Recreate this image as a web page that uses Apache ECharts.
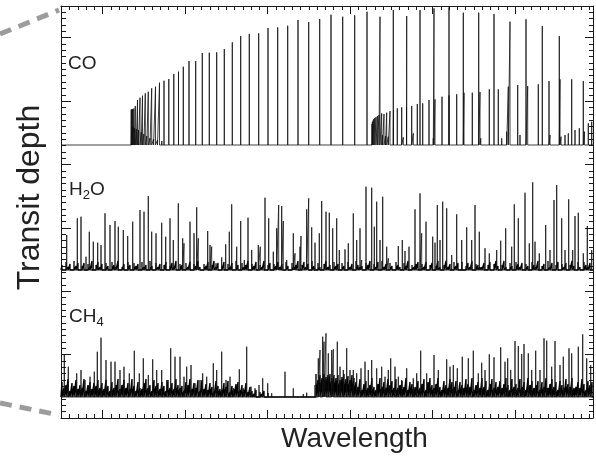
<!DOCTYPE html>
<html><head><meta charset="utf-8">
<script src="https://cdn.jsdelivr.net/npm/echarts@6/dist/echarts.min.js"></script>
<style>html,body{margin:0;padding:0;background:#fff}#c{width:596px;height:460px}</style>
</head><body><div id="c"></div>
<script>
// ---- axis ranges and ticks (arbitrary wavelength units; no tick labels in the original) ----
const xRange = [61, 593];
const yRange = [0, 412];
const xMajorTicks = [102.7, 185.2, 267.7, 350.2, 432.7, 515.2];
const xMinorTicks = [69.7, 77.95, 86.2, 94.45, 110.95, 119.2, 127.45, 135.7, 143.95, 152.2, 160.45, 168.7, 176.95,
  193.45, 201.7, 209.95, 218.2, 226.45, 234.7, 242.95, 251.2, 259.45, 275.95, 284.2, 292.45, 300.7, 308.95, 317.2,
  325.45, 333.7, 341.95, 358.45, 366.7, 374.95, 383.2, 391.45, 399.7, 407.95, 416.2, 424.45, 440.95, 449.2, 457.45,
  465.7, 473.95, 482.2, 490.45, 498.7, 506.95, 523.45, 531.7, 539.95, 548.2, 556.45, 564.7, 572.95, 581.2, 589.45];
const yMajorInterval = 63.38;
const yMinorInterval = 6.338;

// ---- panel baselines (transit-depth offsets of the three stacked spectra) ----
const coBase = 273, h2oBase = 148, ch4Base = 21;

// ---- CO: [wavelength, depth] ----
const coBand1 = [[131.2,308.5],[131.7,308.5],[132.6,309],[133.8,309.5],[135.3,312],[137.5,318],[140,320.3],[142.5,322.3],
  [145.3,324.7],[148.3,326.3],[151.7,329.7],[155.5,331.3],[159.5,335.3],[164,337.3],[168.8,339],[173.8,344],[178.5,346.3],
  [183.3,351.3],[189,357],[195.7,357],[202.3,365],[209.3,365.3],[216.7,365.7],[224.3,369],[232.3,375.7],[240.7,382],
  [249.3,384],[258.7,384.7],[268,390],[277.7,390.7],[287.7,392.3],[298,398],[308.7,396],[319.7,399],[331,403.3],
  [342.7,401.3],[354.7,402.7],[367,406.3],[380,401.3],[393.3,408],[406.7,402],[420,408],[434,409.7],[449,410.7],
  [463.3,405.3],[478.7,405.3],[494,404],[510,396.3],[526,398.7],[542.3,392],[559.3,382]];
const coBand1Return = [[132.2,292],[133.2,291],[134.5,290],[136.3,289],[138.5,288],[141.2,286],[143.9,284],[146.8,282],
  [150,280],[153.6,279],[157.5,278],[161.8,277]];
const coBand2 = [[372,294],[372.4,296],[373,297.5],[373.8,299],[374.8,300],[376,301],[377.4,302],[379,303],[381.7,304.7],
  [384,304],[386.7,305.3],[390,307],[393.5,308],[397.3,309.7],[401.7,310.7],[406.5,311],[411.7,312],[417.3,314],
  [422.7,314.7],[429,318],[435,318.7],[442,321.3],[449,322.5],[456.7,323.7],[464,325.3],[472.3,325.3],[480,326],
  [489.3,328.7],[498.3,328.7],[508.3,331.3],[517.7,333],[527.7,332],[538.3,333.7],[549,337],[560,338.7],[571.7,338.7],[583.3,337]];
const coWeak = [[382.5,283],[385.5,282],[388.3,281.3],[403.3,280.7],[413.3,284.7],[433.3,279.7],[480.8,279.7],[501.7,279.7],
  [506.7,286.3],[520,283],[550,283],[561,281.3],[565,283],[568.3,284.7],[575,288],[579.3,289.7],[584.5,286.3],[588.3,294.7],[591.7,296.3]];

// ---- H2O ----
const h2oLines = [[66.7,183],[77.3,199.7],[81,201.3],[86,161.3],[89.3,186.3],[93.3,176.3],[97.7,175.3],[101,173],[105,204.7],
  [110,193],[115,197],[118.3,191.3],[123.3,188],[127.7,182],[132.7,196.3],[140,208],[144,206.3],[148.3,222],[151.7,186.3],
  [156,184.7],[161.7,195.3],[165.7,181.3],[170,199.7],[173.3,178],[178.3,214.7],[182.7,179.7],[184,174.7],[190,196.3],
  [194,184.7],[196.7,210.7],[198.3,179.7],[207.7,187],[210,173],[211.7,171.3],[216,154.7],[221.7,160.7],[225.7,173.7],
  [229.3,186.3],[231.7,213.7],[236.7,171.3],[240.7,197],[244.3,158],[248,200.3],[251.7,168],[258.3,173],[260.3,171.3],
  [265,220.3],[268.7,199.7],[273.3,166.3],[276.7,189.7],[278.7,213],[281.7,212],[283.3,197],[286.7,158],[293.3,184.7],
  [295,164.7],[300,171.3],[301,182],[306.7,208.7],[308.7,219.7],[311.7,190.7],[315,175.3],[319.3,184.7],[321.7,217],
  [326,206.3],[329.3,205.3],[332.7,189.7],[336.7,199.7],[339.3,168],[345,168.7],[348.3,174.7],[353.3,204.7],[356.7,178],
  [360,189.7],[361.7,158],[366,231.3],[371.7,230.3],[374.3,191.3],[376.7,216.3],[380,178],[382.7,221.3],[386.7,171.3],
  [388.3,159.7],[398.3,172],[402.3,178],[405,167],[409,171.3],[415,208.7],[420,224.7],[421.7,184.7],[426,196.3],
  [432.7,181.3],[435,175.3],[437.3,213],[440,178],[442.7,216.3],[446.7,209.7],[451.7,163],[456.7,203.7],[461.7,178],
  [466.7,190.7],[471.7,178],[475,213],[479.3,186.3],[485,169.7],[489.3,164.7],[496.7,168],[500.7,177.3],[505.7,189.7],
  [511.7,171.3],[514.3,213.7],[518.3,199.7],[525,225.3],[529.3,174.7],[532.7,235.7],[535,176.3],[539.3,164.7],
  [545.7,193],[550,168],[554,218],[556.7,233],[561.7,199.7],[565,168],[568.7,218.7],[572.7,168],[575,202],[578.3,205.3],
  [583.3,164.7],[587.3,192],[591.7,168]];
const h2oGrass = [[62,153],[64,150],[66,156],[68,151],[70,154],[72,149],[74,157],[76,152],[78,155],[80,150],
  [82,152],[84,155],[86,149],[88,154],[90,151],[92,157],[94,150],[96,153],[98,156],[100,151],
  [102,154],[104,149],[106,155],[108,152],[110,150],[112,156],[114,153],[116,151],[118,157],[120,150],
  [122,151],[124,154],[126,150],[128,156],[130,153],[132,149],[134,155],[136,152],[138,154],[140,150],
  [142,156],[144,151],[146,153],[148,149],[150,157],[152,152],[154,150],[156,155],[158,151],[160,154],
  [162,150],[164,153],[166,156],[168,149],[170,152],[172,155],[174,151],[176,157],[178,150],[180,154],
  [182,153],[184,150],[186,155],[188,151],[190,156],[192,149],[194,154],[196,152],[198,157],[200,151],
  [202,149],[204,154],[206,152],[208,156],[210,150],[212,153],[214,157],[216,151],[218,155],[220,149],
  [222,152],[224,156],[226,150],[228,154],[230,151],[232,155],[234,149],[236,157],[238,153],[240,150],
  [242,155],[244,151],[246,153],[248,157],[250,149],[252,154],[254,152],[256,156],[258,150],[260,153],
  [262,151],[264,157],[266,149],[268,153],[270,155],[272,150],[274,154],[276,152],[278,156],[280,151],
  [282,154],[284,150],[286,156],[288,152],[290,149],[292,155],[294,151],[296,153],[298,157],[300,150],
  [302,153],[304,156],[306,151],[308,154],[310,150],[312,157],[314,152],[316,149],[318,155],[320,151],
  [322,150],[324,154],[326,157],[328,151],[330,153],[332,149],[334,156],[336,152],[338,154],[340,150],
  [342,155],[344,152],[346,149],[348,156],[350,151],[352,154],[354,150],[356,157],[358,153],[360,151],
  [362,152],[364,149],[366,155],[368,153],[370,157],[372,150],[374,154],[376,151],[378,156],[380,149],
  [382,157],[384,151],[386,154],[388,150],[390,155],[392,152],[394,149],[396,156],[398,153],[400,151],
  [402,150],[404,155],[406,152],[408,157],[410,149],[412,153],[414,151],[416,154],[418,156],[420,150],
  [422,154],[424,151],[426,156],[428,149],[430,153],[432,155],[434,150],[436,152],[438,157],[440,151],
  [442,149],[444,153],[446,157],[448,151],[450,154],[452,150],[454,156],[456,152],[458,155],[460,150],
  [462,156],[464,150],[466,152],[468,155],[470,151],[472,157],[474,149],[476,154],[478,153],[480,151],
  [482,151],[484,155],[486,150],[488,153],[490,156],[492,149],[494,154],[496,157],[498,152],[500,150],
  [502,153],[504,157],[506,151],[508,149],[510,155],[512,152],[514,150],[516,156],[518,154],[520,151],
  [522,155],[524,149],[526,154],[528,152],[530,150],[532,156],[534,153],[536,151],[538,157],[540,149],
  [542,152],[544,154],[546,150],[548,157],[550,151],[552,155],[554,149],[556,153],[558,156],[560,150],
  [562,154],[564,151],[566,155],[568,150],[570,153],[572,157],[574,152],[576,149],[578,156],[580,151],
  [582,150],[584,156],[586,153],[588,151],[590,155],[592,149]];

// ---- CH4 ----
const ch4Lines = [[64.3,63.7],[68.3,51.3],[76.7,44.7],[81,48],[85,38],[90,41.3],[94.3,46.3],[97.3,66.3],[101,80.3],
  [106,58],[111,56.3],[115,56.3],[120,48],[124,51.3],[129.3,44.7],[134.3,67.3],[139.3,44.7],[143.3,59.7],[148.3,43],
  [152.7,58.7],[156.7,48],[161.7,48],[166.7,38],[170.7,69.7],[175,61.3],[180,61.3],[184,41.3],[186.7,51.3],[191,53],
  [195,34.7],[200,38],[202.7,44.7],[206.7,41.3],[213.3,54.7],[216.7,48],[221.7,66.3],[226,38],[230,41.3],[233.3,29.7],
  [239.3,48.7],[243.3,29.7],[246.7,71.3],[251,31.3],[255,29.7],[259,33],[262.7,39.7],[267.7,34.7],[271.7,24.7],
  [278.3,22],[285,46.3],[293.3,29.7],[303.3,24],[306.7,25.3],[315,33],[318.3,59.7],[320,68],[322.7,81.3],[324,76.3],
  [326,84.7],[328.3,64.7],[331.7,68],[333.3,68.7],[337.3,76.3],[340,51.3],[343.3,48],[346.7,69.7],[350,48],[353.3,48],
  [356.7,44.7],[361,49.7],[365,56.3],[368.3,48],[371.7,58],[376.7,49.7],[381.7,51.3],[385,41.3],[388.3,48],[390.7,59.7],
  [395,51.3],[398.3,41.3],[401.7,38],[406.7,49.7],[413.3,39.7],[416.7,44.7],[420.7,67.3],[426.7,44.7],[434,63],
  [438.3,48],[446.7,58.7],[450,51.3],[453.3,53],[457.3,49.7],[462.3,61.3],[468.3,59.7],[473.3,67.3],[478.3,44.7],
  [481.7,55.3],[485,48],[489.3,63.7],[494,60.7],[500.7,70.7],[505,56.3],[507.7,59.7],[510.7,48],[515,77],[518.3,72],
  [521.7,64],[524,74],[528.3,64.7],[531.7,48],[535.7,67.3],[540,48],[544,79.7],[546.7,77.3],[551.7,51.3],[555,77],
  [560,53],[563.3,61.3],[569,69.7],[571.7,64.7],[578.3,71.3],[582.7,83.7],[586.7,59.7],[590.7,53]];
const ch4Grass = [[62,36],[64,30],[66,33],[68,39],[70,27],[72,35],[74,32],[76,38],[78,29],[80,33],
  [82,30],[84,39],[86,27],[88,33],[90,36],[92,29],[94,35],[96,32],[98,38],[100,30],
  [102,35],[104,29],[106,38],[108,32],[110,27],[112,36],[114,30],[116,33],[118,39],[120,29],
  [122,33],[124,38],[126,30],[128,35],[130,29],[132,39],[134,32],[136,27],[138,36],[140,30],
  [142,29],[144,35],[146,39],[148,30],[150,33],[152,27],[154,38],[156,32],[158,35],[160,29],
  [162,36],[164,32],[166,27],[168,38],[170,30],[172,35],[174,29],[176,39],[178,33],[180,30],
  [182,32],[184,27],[186,36],[188,33],[190,39],[192,29],[194,35],[196,30],[198,38],[200,27],
  [202,38],[204,29],[206,34],[208,28],[210,35],[212,31],[214,26],[216,37],[218,32],[220,29],
  [222,28],[224,35],[226,31],[228,37],[230,26],[232,32],[234,29],[236,34],[238,36],[240,28],
  [242,33],[244,28],[246,35],[248,26],[250,31],[252,27],[254,24],[256,28],[258,23],[260,26],
  [262,24],[264,27],[266,23],[268,25],[270,22],[272,22],[274,21],[276,23],[278,21],[280,22],
  [282,21],[284,21],[286,22],[288,21],[290,23],[292,21],[294,22],[296,21],[298,21],[300,22],
  [302,21],[304,23],[306,21],[308,22],[310,21],[312,22],[314,23],
  [316,44],[318,38],[320,43],[322,40],[324,44],[326,41],[328,43],[330,44],[332,40],[334,43],
  [336,40],[338,43],[340,38],[342,41],[344,44],[346,39],[348,42],[350,38],[352,43],[354,40],
  [356,36],[358,31],[360,39],[362,28],[364,34],[366,37],[368,30],[370,33],[372,40],[374,31],
  [376,28],[378,34],[380,40],[382,31],[384,36],[386,30],[388,39],[390,33],[392,37],[394,30],
  [396,39],[398,30],[400,33],[402,37],[404,31],[406,40],[408,28],[410,36],[412,34],[414,31],
  [416,31],[418,37],[420,30],[422,34],[424,39],[426,28],[428,36],[430,40],[432,33],[434,30],
  [436,34],[438,40],[440,31],[442,28],[444,37],[446,33],[448,30],[450,39],[452,36],[454,31],
  [456,37],[458,28],[460,36],[462,33],[464,30],[466,39],[468,34],[470,31],[472,40],[474,28],
  [476,33],[478,36],[480,30],[482,40],[484,31],[486,37],[488,28],[490,34],[492,39],[494,30],
  [496,36],[498,31],[500,37],[502,30],[504,34],[506,40],[508,33],[510,28],[512,39],[514,31],
  [516,34],[518,30],[520,39],[522,31],[524,36],[526,28],[528,40],[530,33],[532,37],[534,30],
  [536,33],[538,37],[540,28],[542,36],[544,31],[546,40],[548,30],[550,34],[552,39],[554,31],
  [556,36],[558,28],[560,37],[562,33],[564,30],[566,39],[568,34],[570,31],[572,40],[574,30],
  [576,31],[578,36],[580,30],[582,39],[584,34],[586,28],[588,37],[590,33],[592,36]];

// ---- texts ----
const yTitle = 'Transit depth';
const xTitle = 'Wavelength';

// build a stick-spectrum trace (each line rises from the panel baseline)
function trace(base, ...lists) {
  const pts = [].concat(...lists).sort((a, b) => a[0] - b[0]);
  const out = [[xRange[0], base]];
  for (const [x, y] of pts) { out.push([x, base], [x, y], [x, base]); }
  out.push([xRange[1], base]);
  return out;
}

const frameColor = '#1a1a1a';
function xAx(pos, ticks, len, line) {
  return { type: 'value', position: pos, min: xRange[0], max: xRange[1],
    axisLine: { show: line, onZero: false, lineStyle: { color: frameColor, width: 1 } },
    axisTick: { show: true, inside: true, length: len, customValues: ticks, lineStyle: { color: frameColor, width: 1 } },
    axisLabel: { show: false }, splitLine: { show: false } };
}
function yAx(pos, interval, len, line) {
  return { type: 'value', position: pos, min: yRange[0], max: yRange[1], interval: interval,
    axisLine: { show: line, onZero: false, lineStyle: { color: frameColor, width: 1 } },
    axisTick: { show: true, inside: true, length: len, lineStyle: { color: frameColor, width: 1 } },
    axisLabel: { show: false }, splitLine: { show: false } };
}
function spec(data, w, c) {
  return { type: 'line', xAxisIndex: 0, yAxisIndex: 0, data: data, showSymbol: false, symbol: 'none',
    sampling: null, lineStyle: { color: c, width: w }, animation: false, silent: true, z: 1 };
}

const font = '"Liberation Sans", Arial, Helvetica, sans-serif';
const chart = echarts.init(document.getElementById('c'), null, { renderer: 'canvas' });
chart.setOption({
  backgroundColor: '#fff',
  animation: false,
  grid: { left: 61, right: 3, top: 6, bottom: 42, containLabel: false },
  xAxis: [xAx('bottom', xMajorTicks, 8, true), xAx('bottom', xMinorTicks, 4, false),
          xAx('top', xMajorTicks, 8, true), xAx('top', xMinorTicks, 4, false)],
  yAxis: [yAx('left', yMajorInterval, 10, true), yAx('left', yMinorInterval, 5, false),
          yAx('right', yMajorInterval, 8, true), yAx('right', yMinorInterval, 4, false)],
  series: [
    spec(trace(coBase, coBand1, coBand1Return, coBand2, coWeak), 0.8, '#111'),
    spec(trace(h2oBase, h2oGrass), 1.3, '#000'),
    spec(trace(h2oBase, h2oLines), 0.8, '#111'),
    spec(trace(ch4Base, ch4Grass), 1.4, '#000'),
    spec(trace(ch4Base, ch4Lines), 0.8, '#111')
  ],
  graphic: [
    { type: 'polyline', silent: true, shape: { points: [[0, 34], [59, 10]] },
      style: { stroke: '#9c9c9c', lineWidth: 5, lineDash: [12, 8], fill: null } },
    { type: 'polyline', silent: true, shape: { points: [[0, 403], [59, 415]] },
      style: { stroke: '#9c9c9c', lineWidth: 5, lineDash: [12, 8], fill: null } },
    { type: 'text', x: 68, y: 64, style: { text: 'CO', font: '19px ' + font, fill: '#222', textVerticalAlign: 'middle' } },
    { type: 'text', x: 69, y: 189.5, style: { text: 'H', font: '19px ' + font, fill: '#222', textVerticalAlign: 'middle' } },
    { type: 'text', x: 82.7, y: 195, style: { text: '2', font: '13px ' + font, fill: '#222', textVerticalAlign: 'middle' } },
    { type: 'text', x: 90, y: 189.5, style: { text: 'O', font: '19px ' + font, fill: '#222', textVerticalAlign: 'middle' } },
    { type: 'text', x: 69, y: 316.4, style: { text: 'CH', font: '19px ' + font, fill: '#222', textVerticalAlign: 'middle' } },
    { type: 'text', x: 96.5, y: 322, style: { text: '4', font: '13px ' + font, fill: '#222', textVerticalAlign: 'middle' } },
    { type: 'text', x: 30, y: 197.5, rotation: Math.PI / 2,
      style: { text: yTitle, font: '32px ' + font, fill: '#222', textAlign: 'center', textVerticalAlign: 'middle' } },
    { type: 'text', x: 354.5, y: 439, style: { text: xTitle, font: '28px ' + font, fill: '#222', textAlign: 'center', textVerticalAlign: 'middle' } }
  ]
});
</script></body></html>
